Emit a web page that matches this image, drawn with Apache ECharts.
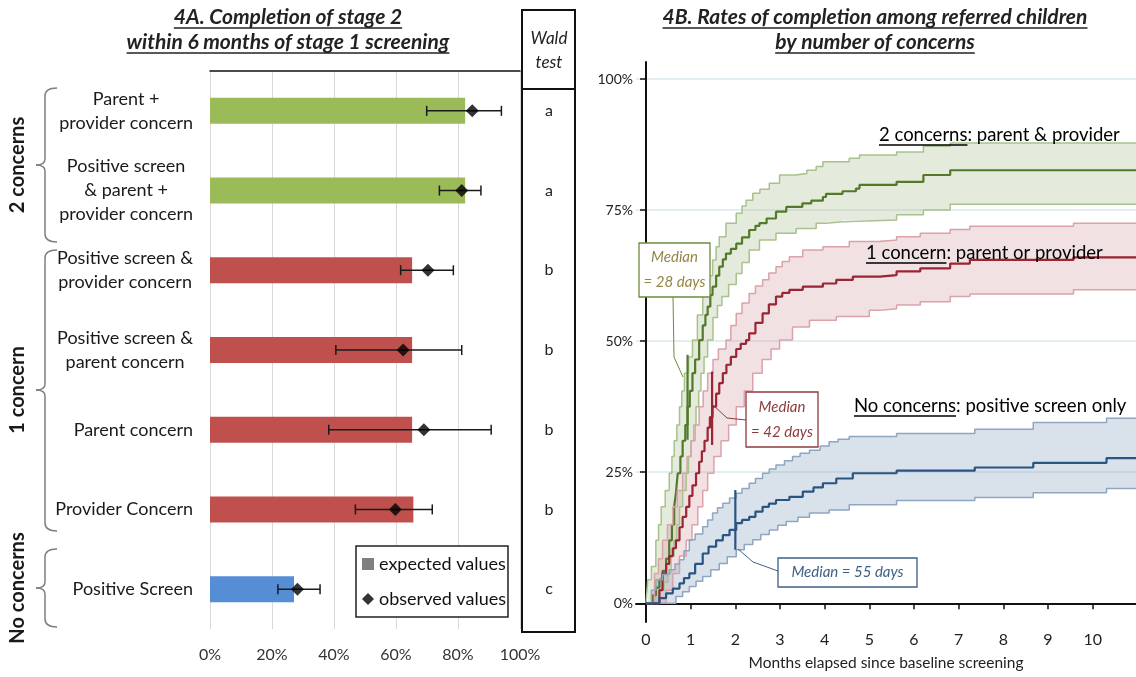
<!DOCTYPE html>
<html lang="en">
<head>
<meta charset="UTF-8">
<title>Completion of stage 2</title>
<script src="https://cdn.jsdelivr.net/npm/echarts@6/dist/echarts.min.js"></script>
<style>
    body { margin: 0; background: #fff; }
    #chart { width: 1136px; height: 677px; }
</style>
</head>
<body>
<div id="chart"></div>
<script>
// ---------- 4A: completion within 6 months ----------
var categories = ['Parent +\nprovider concern', 'Positive screen\n& parent +\nprovider concern',
    'Positive screen &\nprovider concern', 'Positive screen &\nparent concern',
    'Parent concern', 'Provider Concern', 'Positive Screen'];
var expected = [82.3, 82.3, 65.2, 65.2, 65.2, 65.6, 27.1];
var observed = [84.6, 81.2, 70.3, 62.3, 69.0, 59.8, 28.2];
var ciLow = [69.9, 74.0, 61.5, 40.6, 38.3, 46.9, 21.9];
var ciHigh = [94.0, 87.4, 78.5, 81.2, 90.7, 71.7, 35.5];
var barColors = ['#9bbb59', '#9bbb59', '#c0504d', '#c0504d', '#c0504d', '#c0504d', '#558ed5'];
var waldLetters = ['a', 'a', 'b', 'b', 'b', 'b', 'c'];
var groupNames = ['2 concerns', '1 concern', 'No concerns'];

// ---------- 4B: cumulative completion (months, %) ----------
var monthTicks = [0, 1, 2, 3, 4, 5, 6, 7, 8, 9, 10];
var pctTicks = [0, 25, 50, 75, 100];

var twoMain = [[0,0],[0.07,0],[0.15,1.5],[0.22,3],[0.3,4.5],[0.37,6.2],[0.45,8.5],[0.52,12],[0.58,15],[0.63,18.4],[0.67,21],[0.71,24.8],[0.77,28],[0.82,31],[0.88,34],[0.93,37.5],[0.98,40.5],[1.04,43.9],[1.1,46.5],[1.19,50.2],[1.27,53],[1.33,55],[1.38,56.6],[1.44,58.8],[1.49,60.4],[1.57,62.5],[1.64,64.2],[1.72,65.6],[1.79,66.7],[1.9,67.6],[2.02,68.6],[2.15,69.8],[2.31,71.2],[2.45,72],[2.54,72.5],[2.7,73.4],[2.91,74.7],[3.14,75.6],[3.5,76.3],[3.7,76.8],[3.96,77.5],[4.03,78.1],[4.4,78.6],[4.7,79.1],[4.78,79.8],[5.61,80.4],[6.21,81.7],[6.81,82.6],[11,82.6]];
var twoUpper = [[0,0],[0.04,4.5],[0.12,7],[0.22,12],[0.28,15],[0.34,18.4],[0.43,21.5],[0.52,24.8],[0.58,28],[0.63,31],[0.69,34],[0.75,37.5],[0.8,40.5],[0.86,43.9],[0.95,47],[1.04,50.2],[1.15,55],[1.27,59.1],[1.38,62.5],[1.49,65.5],[1.57,68],[1.64,69.9],[1.79,72.5],[2.02,74.4],[2.15,75.8],[2.24,76.9],[2.39,78.2],[2.55,79],[2.76,80.1],[2.99,81.7],[3.36,82],[3.6,82.6],[3.81,83.3],[3.96,84.2],[4.55,84.9],[4.78,85.5],[5.61,86.1],[6.21,87.2],[6.81,87.8],[11,87.8]];
var twoLower = [[0,0],[0.22,0],[0.3,2.5],[0.4,4],[0.49,5.7],[0.56,9],[0.63,12],[0.69,15],[0.75,18.4],[0.82,21.5],[0.9,24.8],[0.95,28],[1.01,31],[1.07,34],[1.12,37.5],[1.18,40.5],[1.23,43.9],[1.3,47],[1.38,50.2],[1.5,54.5],[1.6,56.8],[1.7,58.5],[1.85,60.8],[2.02,62.9],[2.15,65],[2.31,67.4],[2.54,69.3],[2.91,70.6],[3.36,71.5],[3.81,72.5],[4.03,72.8],[4.4,73.1],[5.61,74.1],[6.21,75],[6.81,76.1],[11,76.1]];

var oneMain = [[0,0],[0.22,0],[0.3,2.5],[0.37,5.7],[0.45,7.5],[0.52,9],[0.6,10.5],[0.67,12],[0.75,14.5],[0.82,16.5],[0.9,18.4],[0.97,20.5],[1.04,22.5],[1.12,24.8],[1.19,27],[1.25,29],[1.31,31],[1.38,33.5],[1.43,35.5],[1.49,37.5],[1.57,40],[1.64,42],[1.72,43.9],[1.8,45.5],[1.9,47],[2.02,48.5],[2.12,49.5],[2.24,50.2],[2.31,51.5],[2.45,53.5],[2.61,55.3],[2.75,57],[2.91,58.5],[3.05,59.2],[3.21,59.8],[3.51,60.4],[3.96,61],[4.26,61.7],[4.63,62.3],[5.24,62.6],[5.61,63.3],[6.14,63.9],[6.81,64.8],[7.25,65.5],[9.57,66],[11,66]];
var oneUpper = [[0,0],[0.12,0],[0.19,5.7],[0.28,8.5],[0.37,12],[0.48,15],[0.6,18.4],[0.7,21.5],[0.82,24.8],[0.92,28],[1.01,31],[1.1,34],[1.19,37.5],[1.28,40.5],[1.38,43.9],[1.5,46.5],[1.62,48.5],[1.79,50.2],[1.9,53],[2.02,55.3],[2.15,57.3],[2.31,59.1],[2.45,60.5],[2.61,61.7],[2.75,63],[2.91,64.2],[3.05,65.2],[3.21,66.1],[3.51,67.4],[3.96,68],[4.55,69],[5.24,69.3],[5.61,69.9],[6.14,70.6],[6.81,71.3],[7.25,71.9],[9.57,72.5],[11,72.5]];
var oneLower = [[0,0],[0.3,0],[0.45,2.5],[0.6,5.7],[0.75,9],[0.9,12],[1.03,15],[1.16,18.4],[1.27,21.5],[1.38,24.8],[1.52,28],[1.68,31],[1.85,34],[2.02,37.5],[2.2,40.5],[2.39,43.9],[2.6,46.5],[2.8,48.5],[2.99,50.2],[3.28,52.7],[3.66,54],[4.26,54.7],[5.0,55.9],[5.24,56.2],[5.61,56.9],[6.14,57.5],[6.81,58.5],[7.25,59],[9.57,59.8],[11,59.8]];

var noneMain = [[0,0],[0.22,0],[0.3,1],[0.45,1.9],[0.6,2.8],[0.75,3.8],[0.85,4.8],[0.97,5.7],[1.1,7.5],[1.27,9.5],[1.4,10.8],[1.57,12],[1.72,13],[1.87,14],[2.02,15.3],[2.15,15.9],[2.31,16.5],[2.45,17.5],[2.61,18.4],[2.75,19],[2.91,19.7],[3.21,20.3],[3.51,21.3],[3.75,22.1],[3.96,22.9],[4.26,23.8],[4.63,24.8],[5.61,25.3],[7.36,25.9],[8.67,26.8],[10.31,27.7],[11,27.7]];
var noneUpper = [[0,0],[0.07,0],[0.12,2.5],[0.22,4.5],[0.37,5.5],[0.52,6.4],[0.65,7.5],[0.75,8.3],[0.85,10],[0.97,12.1],[1.1,13.2],[1.27,14.6],[1.38,15.9],[1.49,17.2],[1.6,18.2],[1.72,19.1],[1.87,20.1],[2.02,21],[2.15,21.9],[2.31,22.9],[2.45,23.8],[2.61,24.8],[2.76,25.6],[2.91,26.4],[3.1,27.2],[3.28,28],[3.45,28.6],[3.66,29.2],[3.9,30],[4.1,30.8],[4.3,31.3],[4.55,31.8],[5.61,32.4],[7.36,33.2],[8.67,34.5],[10.31,35.3],[11,35.3]];
var noneLower = [[0,0],[0.45,0],[0.67,1.3],[0.82,2.2],[0.97,3.2],[1.12,4.2],[1.27,5.1],[1.45,6.4],[1.64,7.6],[1.82,8.9],[2.02,10.2],[2.2,11.2],[2.39,12.1],[2.57,13.1],[2.76,14],[2.95,14.9],[3.14,15.6],[3.4,16.4],[3.66,17.2],[4.1,17.8],[4.55,18.8],[5.61,19.6],[7.36,20.2],[8.67,21.1],[10.31,21.9],[11,21.9]];

// median markers: month, low %, high %
var medianX = [0.93, 1.48, 2.0];
var medianLo = [31.2, 30.2, 10.2];
var medianHi = [47.4, 44.2, 21.6];
var medianText = [['Median', '= 28 days'], ['Median', '= 42 days'], ['Median = 55 days']];

var FONT = 'Lato, "Open Sans", sans-serif';
var green = { main: '#527a2a', edge: '#a8c28e', fill: 'rgba(165,185,140,0.30)', box: '#6d8a3e', text: '#958645' };
var red = { main: '#9a2535', edge: '#dba2aa', fill: 'rgba(200,135,140,0.25)', box: '#8e3b3b', text: '#8e3b3b' };
var blue = { main: '#2a5582', edge: '#8ea6c2', fill: 'rgba(130,155,190,0.30)', box: '#3d5f85', text: '#3d5f85' };

var ctx = document.createElement('canvas').getContext('2d');
function textWidth(str, font) {
    ctx.font = font;
    return ctx.measureText(str).width;
}

function stepPoints(arr) {
    var out = [];
    arr.forEach(function (p, i) {
        if (i > 0) out.push([p[0], arr[i - 1][1]]);
        out.push(p);
    });
    return out;
}

function bandSeries(upper, lower, fill) {
    return {
        type: 'custom', xAxisIndex: 1, yAxisIndex: 2, data: [[0, 0]], silent: true, z: 2,
        renderItem: function (params, api) {
            var pts = stepPoints(upper).concat(stepPoints(lower).reverse()).map(function (p) { return api.coord(p); });
            return { type: 'polygon', shape: { points: pts }, style: { fill: fill } };
        }
    };
}

function kmLine(data, color, width) {
    return {
        type: 'line', xAxisIndex: 1, yAxisIndex: 2, data: data, step: 'end', showSymbol: false,
        silent: true, z: 3, lineStyle: { color: color, width: width }
    };
}

function medianSeries(i, color) {
    return {
        type: 'line', xAxisIndex: 1, yAxisIndex: 2, showSymbol: false, silent: true, z: 4,
        data: [[medianX[i], medianLo[i]], [medianX[i], medianHi[i]]],
        lineStyle: { color: color, width: 2.2 }
    };
}

var chart = echarts.init(document.getElementById('chart'));

var option = {
    animation: false,
    grid: [
        { left: 210, width: 310, top: 71, bottom: 48 },
        { left: 636, right: 0, top: 62, bottom: 55 }
    ],
    legend: {
        data: [{ name: 'expected values', icon: 'rect' }, { name: 'observed values', icon: 'diamond' }],
        orient: 'vertical', left: 356, top: 546,
        itemWidth: 12, itemHeight: 12, itemGap: 17,
        padding: [9, 2, 9, 6],
        borderColor: '#222', borderWidth: 1.5, backgroundColor: '#fff',
        textStyle: { fontFamily: FONT, fontSize: 18, color: '#111' }
    },
    xAxis: [
        {
            gridIndex: 0, type: 'value', min: 0, max: 100, interval: 20,
            axisLine: { lineStyle: { color: '#595959', width: 1.5 } },
            axisTick: { show: false },
            axisLabel: { formatter: '{value}%', fontFamily: FONT, fontSize: 16, color: '#333', margin: 18 },
            splitLine: { lineStyle: { color: '#d9d9d9' } }
        },
        {
            gridIndex: 1, type: 'value', min: -0.224, max: 10.97,
            axisLine: { lineStyle: { color: '#111', width: 2 } },
            axisTick: { customValues: monthTicks, length: 6, lineStyle: { color: '#111', width: 1.5 } },
            axisLabel: { customValues: monthTicks, fontFamily: FONT, fontSize: 16, color: '#222', margin: 10 },
            splitLine: { show: false },
            name: 'Months elapsed since baseline screening', nameLocation: 'middle', nameGap: 33,
            nameTextStyle: { fontFamily: FONT, fontSize: 15.5, color: '#222' }
        },
        {
            gridIndex: 0, type: 'value', min: 0, max: 100, position: 'top',
            axisLine: { show: true, lineStyle: { color: '#111', width: 1.5 } },
            axisTick: { show: false }, axisLabel: { show: false }, splitLine: { show: false }
        }
    ],
    yAxis: [
        {
            gridIndex: 0, type: 'category', data: categories, inverse: true,
            axisLine: { show: false }, axisTick: { show: false }, axisLabel: { show: false }
        },
        {
            gridIndex: 0, type: 'category', data: categories, inverse: true, position: 'right',
            axisLine: { show: false }, axisTick: { show: false },
            axisLabel: {
                margin: 29, align: 'center', fontFamily: FONT, fontSize: 16, color: '#222',
                formatter: function (v, i) { return waldLetters[i]; }
            }
        },
        {
            gridIndex: 1, type: 'value', min: -3.57, max: 103.25,
            axisLine: { show: true, lineStyle: { color: '#111', width: 2 } },
            axisTick: { show: true, customValues: pctTicks, length: 6, lineStyle: { color: '#111', width: 1.5 } },
            axisLabel: { customValues: pctTicks, formatter: '{value}%', fontFamily: FONT, fontSize: 14, color: '#222', margin: 3 },
            splitLine: { show: true, lineStyle: { color: '#e3eef2', width: 2 } }
        }
    ],
    series: [
        {
            name: 'expected values', type: 'bar', xAxisIndex: 0, yAxisIndex: 0, barWidth: 26,
            itemStyle: { color: '#7f7f7f' },
            data: expected.map(function (v, i) { return { value: v, itemStyle: { color: barColors[i] } }; })
        },
        {
            type: 'custom', xAxisIndex: 0, yAxisIndex: 0, z: 3, silent: true,
            data: ciLow.map(function (v, i) { return [v, ciHigh[i], i]; }),
            encode: { x: [0, 1], y: 2 },
            renderItem: function (params, api) {
                var a = api.coord([api.value(0), api.value(2)]);
                var b = api.coord([api.value(1), api.value(2)]);
                var st = { stroke: '#1a1a1a', lineWidth: 1.5 };
                return {
                    type: 'group', children: [
                        { type: 'line', shape: { x1: a[0], y1: a[1], x2: b[0], y2: b[1] }, style: st },
                        { type: 'line', shape: { x1: a[0], y1: a[1] - 5, x2: a[0], y2: a[1] + 5 }, style: st },
                        { type: 'line', shape: { x1: b[0], y1: b[1] - 5, x2: b[0], y2: b[1] + 5 }, style: st }
                    ]
                };
            }
        },
        {
            name: 'observed values', type: 'scatter', xAxisIndex: 0, yAxisIndex: 0, z: 4,
            symbol: 'diamond', symbolSize: 13, itemStyle: { color: '#000' },
            data: observed.map(function (v, i) { return [v, i]; })
        },
        bandSeries(twoUpper, twoLower, green.fill),
        bandSeries(oneUpper, oneLower, red.fill),
        bandSeries(noneUpper, noneLower, blue.fill),
        kmLine(twoUpper, green.edge, 1.5), kmLine(twoLower, green.edge, 1.5), kmLine(twoMain, green.main, 2.2),
        kmLine(oneUpper, red.edge, 1.5), kmLine(oneLower, red.edge, 1.5), kmLine(oneMain, red.main, 2.2),
        kmLine(noneUpper, blue.edge, 1.5), kmLine(noneLower, blue.edge, 1.5), kmLine(noneMain, blue.main, 2.2),
        medianSeries(0, green.main), medianSeries(1, red.main), medianSeries(2, blue.main)
    ]
};
chart.setOption(option);

// ---------- annotations ----------
var g = [];

function centeredUnderlined(lines, cx, y0, lineH, font) {
    lines.forEach(function (t, k) {
        var y = y0 + k * lineH;
        var w = textWidth(t, font);
        g.push({ type: 'text', style: { text: t, x: cx, y: y, font: font, fill: '#222', align: 'center', verticalAlign: 'middle' } });
        g.push({ type: 'line', shape: { x1: cx - w / 2, y1: y + 11, x2: cx + w / 2, y2: y + 11 }, style: { stroke: '#222', lineWidth: 1.3 } });
    });
}
var titleFont = 'italic bold 21px ' + FONT;
centeredUnderlined(['4A. Completion of stage 2', 'within 6 months of stage 1 screening'], 288, 17, 25, titleFont);
centeredUnderlined(['4B. Rates of completion among referred children', 'by number of concerns'], 875, 17, 25, titleFont);

// Wald test column
g.push({ type: 'rect', shape: { x: 522, y: 10, width: 53, height: 622 }, style: { fill: 'none', stroke: '#111', lineWidth: 2 } });
g.push({ type: 'line', shape: { x1: 522, y1: 89, x2: 575, y2: 89 }, style: { stroke: '#111', lineWidth: 2 } });
g.push({ type: 'text', style: { text: 'Wald\ntest', x: 549, y: 51, font: 'italic 17px ' + FONT, fill: '#222', align: 'center', verticalAlign: 'middle', lineHeight: 24 } });

// category labels: widest line right-aligned at x=193, lines centered
var catFont = '18px ' + FONT;
categories.forEach(function (c, i) {
    var y = chart.convertToPixel({ yAxisIndex: 0 }, i);
    var lines = c.split('\n');
    var wmax = Math.max.apply(null, lines.map(function (l) { return textWidth(l, catFont); }));
    g.push({ type: 'text', style: { text: c, x: 193 - wmax / 2, y: y, font: catFont, fill: '#1a1a1a', align: 'center', verticalAlign: 'middle', lineHeight: 24 } });
});

// group braces
var braceSpans = [[88, 242, 165], [250, 531, 390], [549, 627, 588]];
var braceStyle = { fill: 'none', stroke: '#7f7f7f', lineWidth: 1.5 };
braceSpans.forEach(function (s, k) {
    var t = s[0], b = s[1], m = s[2];
    g.push({ type: 'bezierCurve', shape: { x1: 57, y1: t, x2: 45, y2: t + 8, cpx1: 45, cpy1: t }, style: braceStyle });
    g.push({ type: 'line', shape: { x1: 45, y1: t + 8, x2: 45, y2: m - 6 }, style: braceStyle });
    g.push({ type: 'bezierCurve', shape: { x1: 45, y1: m - 6, x2: 36, y2: m, cpx1: 45, cpy1: m }, style: braceStyle });
    g.push({ type: 'bezierCurve', shape: { x1: 36, y1: m, x2: 45, y2: m + 6, cpx1: 45, cpy1: m }, style: braceStyle });
    g.push({ type: 'line', shape: { x1: 45, y1: m + 6, x2: 45, y2: b - 8 }, style: braceStyle });
    g.push({ type: 'bezierCurve', shape: { x1: 45, y1: b - 8, x2: 57, y2: b, cpx1: 45, cpy1: b }, style: braceStyle });
    g.push({ type: 'text', rotation: Math.PI / 2, x: 18, y: m, style: { text: groupNames[k], x: 0, y: 0, font: 'bold 20px ' + FONT, fill: '#1a1a1a', align: 'center', verticalAlign: 'middle' } });
});

// curve labels, first part underlined
function curveLabel(x, y, under, rest) {
    var font = '18.5px ' + FONT;
    var w1 = textWidth(under, font);
    g.push({ type: 'text', z: 10, style: { text: under, x: x, y: y, font: font, fill: '#000', verticalAlign: 'middle' } });
    g.push({ type: 'text', z: 10, style: { text: rest, x: x + w1, y: y, font: font, fill: '#000', verticalAlign: 'middle' } });
    g.push({ type: 'line', z: 10, shape: { x1: x, y1: y + 10, x2: x + w1, y2: y + 10 }, style: { stroke: '#000', lineWidth: 1.4 } });
}
curveLabel(879, 135, '2 concerns', ': parent & provider');
curveLabel(866, 253, '1 concern', ': parent or provider');
curveLabel(854, 406, 'No concerns', ': positive screen only');

// median boxes with leaders
var medBoxes = [
    { x: 639, y: 243, w: 71, h: 54, c: green, leader: [[673, 297], [674, 357], [683, 377]] },
    { x: 746, y: 392, w: 72, h: 55, c: red, leader: [[746, 420], [727, 418], [713, 405]] },
    { x: 778, y: 558, w: 139, h: 29, c: blue, leader: [[778, 571], [753, 562], [738, 549]] }
];
medBoxes.forEach(function (b, i) {
    g.push({ type: 'polyline', z: 10, shape: { points: b.leader }, style: { stroke: b.c.box, lineWidth: 1, fill: 'none' } });
    g.push({ type: 'rect', z: 10, shape: { x: b.x, y: b.y, width: b.w, height: b.h }, style: { fill: '#fff', stroke: b.c.box, lineWidth: 1.3 } });
    g.push({ type: 'text', z: 11, style: { text: medianText[i].join('\n'), x: b.x + b.w / 2, y: b.y + b.h / 2, font: 'italic 15px ' + FONT, fill: b.c.text, align: 'center', verticalAlign: 'middle', lineHeight: 25 } });
});

chart.setOption({ graphic: g });
</script>
</body>
</html>
